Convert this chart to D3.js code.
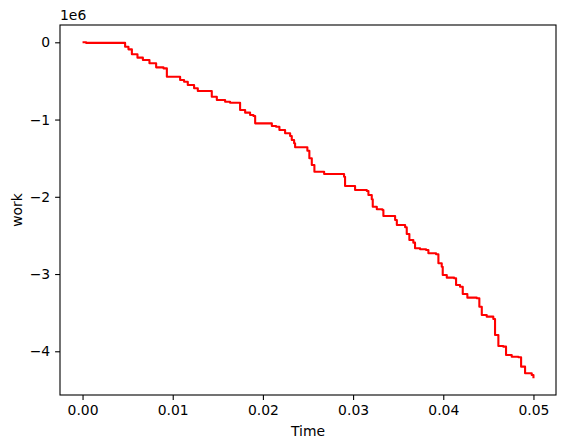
<!DOCTYPE html>
<html>
<head>
<meta charset="utf-8">
<script src="https://cdn.jsdelivr.net/npm/d3@7"></script>
<style>
  body { margin: 0; background: #fff; }
  text { font-family: "DejaVu Sans", sans-serif; }
</style>
</head>
<body>
<div id="chart"></div>
<script>
// step times (s) and work (in units of 1e6)
var times = [0.0, 0.0004, 0.00472, 0.00509, 0.00547, 0.00609, 0.00669, 0.00742, 0.00816, 0.00897,
  0.00935, 0.01082, 0.01126, 0.01167, 0.01237, 0.01278, 0.01433, 0.01489, 0.01581, 0.01636,
  0.01747, 0.01803, 0.01858, 0.01895, 0.01914, 0.02099, 0.02146, 0.02183, 0.02246, 0.02302,
  0.02320, 0.02346, 0.02357, 0.02493, 0.02515, 0.02542, 0.02571, 0.02679, 0.02900, 0.02911,
  0.03022, 0.03152, 0.03170, 0.03207, 0.03218, 0.03263, 0.03325, 0.03336, 0.03466, 0.03485,
  0.03577, 0.03595, 0.03624, 0.03668, 0.03687, 0.03743, 0.03809, 0.03835, 0.03920, 0.03946,
  0.03983, 0.03994, 0.04039, 0.04120, 0.04142, 0.04186, 0.04216, 0.04267, 0.04371, 0.04400,
  0.04427, 0.04482, 0.04555, 0.04574, 0.04611, 0.04666, 0.04696, 0.04759, 0.04833, 0.04863,
  0.04907, 0.04981, 0.05];
var work = [0.0, -0.008, -0.057, -0.091, -0.155, -0.199, -0.229, -0.272, -0.324, -0.337,
  -0.445, -0.488, -0.510, -0.553, -0.595, -0.630, -0.704, -0.747, -0.769, -0.782,
  -0.876, -0.911, -0.941, -0.954, -1.049, -1.084, -1.093, -1.135, -1.178, -1.213,
  -1.265, -1.307, -1.359, -1.403, -1.502, -1.589, -1.675, -1.705, -1.740, -1.860,
  -1.912, -1.925, -1.977, -2.032, -2.128, -2.162, -2.171, -2.249, -2.300, -2.365,
  -2.395, -2.482, -2.560, -2.594, -2.667, -2.680, -2.689, -2.731, -2.744, -2.861,
  -2.905, -3.012, -3.047, -3.055, -3.142, -3.164, -3.258, -3.306, -3.314, -3.423,
  -3.530, -3.552, -3.582, -3.789, -3.932, -3.940, -4.048, -4.070, -4.078, -4.199,
  -4.285, -4.307, -4.350];

var xTicks = [0.00, 0.01, 0.02, 0.03, 0.04, 0.05];
var yTicks = [0, -1, -2, -3, -4];

var width = 565, height = 448;
var axLeft = 60, axRight = 556, axTop = 25, axBottom = 395;

var svg = d3.select("#chart").append("svg")
    .attr("width", width)
    .attr("height", height);

var data = times.map((t, i) => ({ t: t, w: work[i] }));

// matplotlib-style 5% margins
var xPad = 0.05 * (0.05 - 0);
var xScale = d3.scaleLinear()
    .domain([0 - xPad, 0.05 + xPad])
    .range([axLeft, axRight]);

var yScale = d3.scaleLinear()
    .domain([-4.566, 0.224])
    .range([axBottom, axTop]);

var fmtMinus = v => (v < 0 ? "\u2212" + Math.abs(v) : "" + v);

// x axis
var xAxis = d3.axisBottom(xScale)
    .tickValues(xTicks)
    .tickSize(4.9)
    .tickPadding(4.9)
    .tickFormat(d3.format(".2f"));

var gx = svg.append("g")
    .attr("transform", `translate(0,${axBottom})`)
    .call(xAxis);
gx.select(".domain").remove();
gx.selectAll("line").attr("stroke", "#000").attr("stroke-width", 1.1);
gx.selectAll("text").attr("font-size", 13.9).attr("fill", "#000")
    .attr("font-family", "DejaVu Sans");

// y axis
var yAxis = d3.axisLeft(yScale)
    .tickValues(yTicks)
    .tickSize(4.9)
    .tickPadding(4.9)
    .tickFormat(fmtMinus);

var gy = svg.append("g")
    .attr("transform", `translate(${axLeft},0)`)
    .call(yAxis);
gy.select(".domain").remove();
gy.selectAll("line").attr("stroke", "#000").attr("stroke-width", 1.1);
gy.selectAll("text").attr("font-size", 13.9).attr("fill", "#000")
    .attr("font-family", "DejaVu Sans");

// the work curve
var line = d3.line()
    .x(d => xScale(d.t))
    .y(d => yScale(d.w))
    .curve(d3.curveStepAfter);

svg.append("path")
    .datum(data)
    .attr("d", line)
    .attr("fill", "none")
    .attr("stroke", "#ff0000")
    .attr("stroke-width", 2.1)
    .attr("stroke-linejoin", "round");

// axes frame
svg.append("rect")
    .attr("x", axLeft)
    .attr("y", axTop)
    .attr("width", axRight - axLeft)
    .attr("height", axBottom - axTop)
    .attr("fill", "none")
    .attr("stroke", "#000")
    .attr("stroke-width", 1.1);

// offset text
svg.append("text")
    .attr("x", axLeft)
    .attr("y", axTop - 5)
    .attr("font-size", 13.9)
    .text("1e6");

// labels
svg.append("text")
    .attr("x", (axLeft + axRight) / 2)
    .attr("y", 436)
    .attr("text-anchor", "middle")
    .attr("font-size", 13.9)
    .text("Time");

svg.append("text")
    .attr("transform", `translate(22,${(axTop + axBottom) / 2}) rotate(-90)`)
    .attr("text-anchor", "middle")
    .attr("font-size", 13.9)
    .text("work");
</script>
</body>
</html>
